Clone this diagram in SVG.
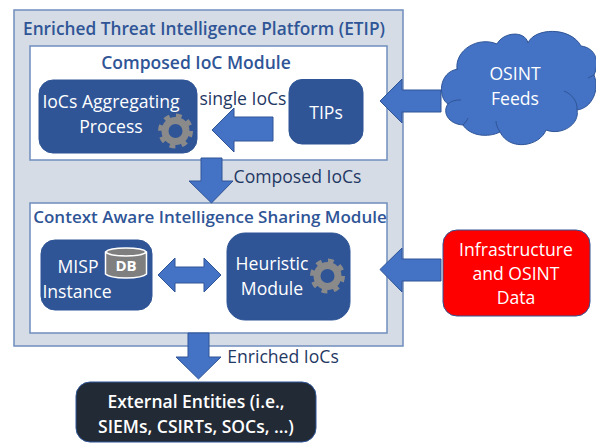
<svg xmlns="http://www.w3.org/2000/svg" width="596" height="443" viewBox="0 0 596 443">
<style>
text{font-family:"Open Sans","Noto Sans","Liberation Sans",sans-serif;text-anchor:middle}
.t{font-size:17.6px;fill:#fff}
.h{font-size:17.5px;font-weight:600;fill:#2f5597}
.l{font-size:17.6px;fill:#1f3864}
.x{font-size:17.5px;font-weight:600;fill:#fff}
.b{fill:#2f5597;stroke:#2f5597}
.a{fill:#4472c4;stroke:#2f5597;stroke-width:1}
.m{fill:#fff;stroke:#6f8dbd;stroke-width:1.5}
.g1{fill:none;stroke:#8a8a8a;stroke-width:7}
.g2{fill:none;stroke:#8a8a8a;stroke-width:5;stroke-dasharray:5.6 6.18}
</style>
<defs>
<g id="gear"><circle r="10.5" class="g1"/><circle r="15" class="g2"/></g>
</defs>
<g id="platform">
<rect x="14" y="10" width="389" height="336" fill="#d6dce5" stroke="#6f8dbd" stroke-width="1.5"/>
<text x="204" y="35" class="h" style="font-size:17.3px">Enriched Threat Intelligence Platform (ETIP)</text>
</g>
<g id="composed-module">
<rect x="30" y="46" width="357" height="114" class="m"/>
<text x="196" y="69" class="h">Composed IoC Module</text>
</g>
<g id="sharing-module">
<rect x="30" y="203" width="357" height="130" class="m"/>
<text x="210" y="223" class="h" style="font-size:17px">Context Aware Intelligence Sharing Module</text>
</g>
<g id="connectors">
<polygon class="a" points="273,117 234,117 234,108 212,130 234,152 234,141 273,141"/>
<polygon class="a" points="201,158 222,158 222,181 233,181 211.500,203 189,181 201,181"/>
<polygon class="a" points="188,333 209,333 209,357 221,357 198.500,379 176,357 188,357"/>
<polygon class="a" points="441,90 402,90 402,79 380,101 402,123 402,112 441,112"/>
<polygon class="a" points="441,259 402,259 402,248 380,269.500 402,292 402,281 441,281"/>
<polygon class="a" points="158,275 175,258 175,267 204,267 204,258 221,275 204,292 204,283 175,283 175,292"/>
<text x="297.500" y="183" class="l">Composed IoCs</text>
<text x="283" y="363" class="l">Enriched IoCs</text>
<text x="243" y="105" class="l">single IoCs</text>
</g>
<g id="ioc-aggregating">
<rect x="39" y="80" width="158" height="73" rx="14" class="b"/>
<text x="111" y="108" class="t">IoCs Aggregating</text>
<text x="111" y="133" class="t">Process</text>
<use href="#gear" x="175.500" y="131"/>
</g>
<g id="tips">
<rect x="289" y="79.500" width="74" height="64.500" rx="13" class="b"/>
<text x="326" y="119" class="t">TIPs</text>
</g>
<g id="misp">
<rect x="41" y="240" width="111" height="70" rx="14" class="b"/>
<text x="78" y="273" class="t">MISP</text>
<text x="77" y="298" class="t">Instance</text>
<path d="M105.500,252 A21,5 0 0 1 146.500,252 V274 A21,5 0 0 1 105.500,274Z" fill="#7f7f7f" stroke="#fff" stroke-width="1.500"/>
<path d="M105.500,252 A21,5 0 0 0 146.500,252" fill="none" stroke="#fff" stroke-width="1.500"/>
<text x="126" y="271" style="font-size:15px;font-weight:700;fill:#fff">DB</text>
</g>
<g id="heuristic">
<rect x="227" y="233" width="123" height="87" rx="18" class="b"/>
<text x="272" y="270" class="t">Heuristic</text>
<text x="272" y="295" class="t">Module</text>
<use href="#gear" x="327.500" y="276"/>
</g>
<g id="external">
<rect x="76" y="382" width="240" height="60" rx="14" fill="#222a35" stroke="#2f5597"/>
<text x="196" y="408" class="x">External Entities (i.e.,</text>
<text x="196" y="433" class="x">SIEMs, CSIRTs, SOCs, …)</text>
</g>
<g id="osint">
<path d="M457,69 C455,50 478,36 497,44 C503,32 525,30 528,43 C534,28 570,26 581,46 C596,48 600,62 594,75 C600,90 592,108 577,110 C580,124 562,136 546,130 C540,146 510,152 500,132 C488,138 470,136 463,125 C448,124 442,112 448,104 C438,98 438,72 458,69 Z" fill="#4472c4" stroke="#2f5597"/>
<path d="M577,110 C578,102 572,94 564,91 M500,132 C497,127 496,124 496,121 M448,104 C452,100 458,100 461,100 M588,78 L594,75 M463,125 C466,122 467,120 468,118" fill="none" stroke="#2f5597"/>
<text x="515" y="80" class="t">OSINT</text>
<text x="515" y="105" class="t">Feeds</text>
</g>
<g id="infrastructure">
<rect x="443" y="230" width="147" height="86" rx="14" fill="#ff0000" stroke="#2f5597"/>
<text x="516" y="256" class="t">Infrastructure</text>
<text x="516" y="280" class="t">and OSINT</text>
<text x="516" y="304" class="t">Data</text>
</g>
</svg>
